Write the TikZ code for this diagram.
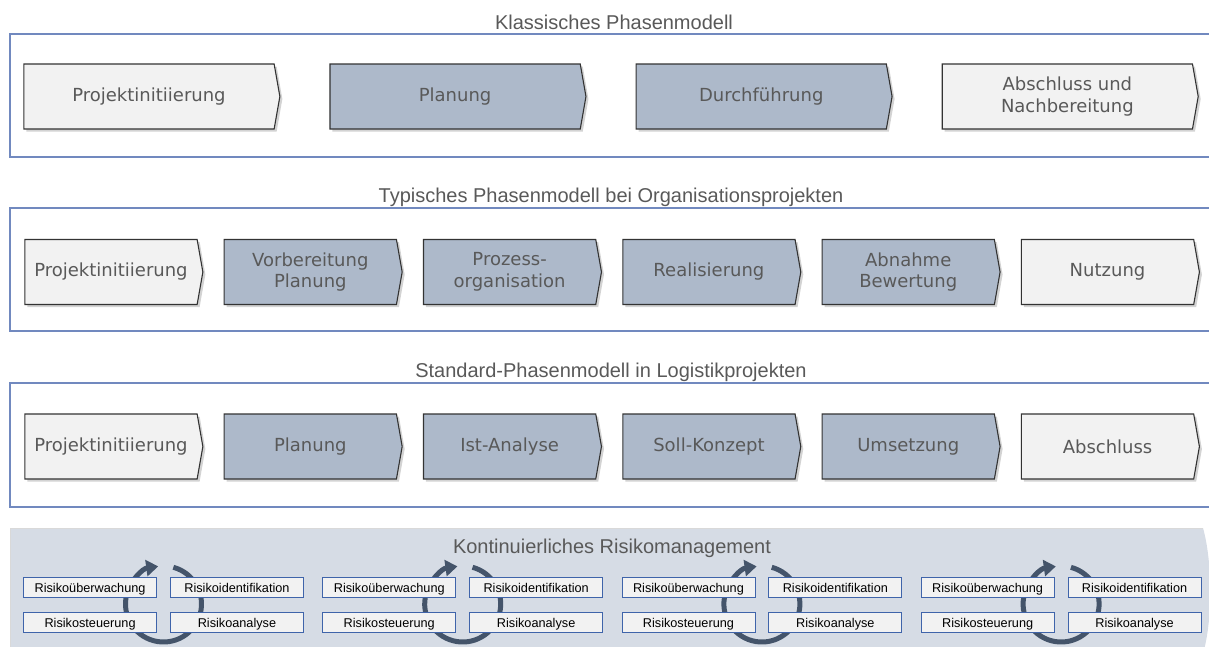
\documentclass[tikz,border=0pt]{standalone}
\usepackage{fontspec}
\setmainfont{Liberation Sans}
\newfontfamily\verdanafont{DejaVu Sans}
\usetikzlibrary{positioning,shapes.symbols,shadows,arrows.meta}

\definecolor{phaselight}{HTML}{F2F2F2}
\definecolor{phaseblue}{HTML}{ADB9CA}
\definecolor{framecol}{HTML}{7189BF}
\definecolor{bandcol}{HTML}{D6DCE5}
\definecolor{ringcol}{HTML}{44546A}
\definecolor{boxcol}{HTML}{3F64AA}
\definecolor{textgray}{HTML}{595959}

\tikzset{
	phase/.style={shape=signal, signal to=east, signal pointer angle=160,
		draw=black!80, line width=1.1pt, minimum height=65pt, inner sep=0pt,
		text=textgray, align=center, font=\verdanafont\fontsize{18}{21.5}\selectfont,
		drop shadow={shadow xshift=2.5pt, shadow yshift=-2.5pt, opacity=0.35}},
	wide/.style={minimum width=256pt},
	narrow/.style={minimum width=178pt},
	frame/.style={draw=framecol, line width=1.3pt},
	title/.style={text=textgray, font=\fontsize{20}{24}\selectfont},
	riskbox/.style={draw=boxcol, fill=phaselight, line width=0.9pt,
		minimum width=133pt, minimum height=20pt, inner sep=0pt,
		text height=12.5pt, text depth=2pt,
		font=\fontsize{12.7}{14}\selectfont},
	ring/.style={draw=ringcol, line width=5pt, -{Triangle[width=16pt,length=12pt]}}
}

\begin{document}
\begin{tikzpicture}[x=1pt, y=-1pt]
	\useasboundingbox (0,0) rectangle (1209,646);
	
	% frames and titles
	\draw[frame] (10,34) rectangle (1230,157);
	\draw[frame] (10,208) rectangle (1230,331);
	\draw[frame] (10,383) rectangle (1230,507);
	
	\node[title] (t1) at (614,22) {Klassisches Phasenmodell};
	\node[title] (t2) at (611,197) {Typisches Phasenmodell bei Organisationsprojekten};
	\node[title] (t3) at (611,372) {Standard-Phasenmodell in Logistikprojekten};
	
	% classic model
	\node[phase, wide, fill=phaselight] (k1) at (149,96.5) {Projektinitiierung};
	\node[phase, wide, fill=phaseblue, right=49pt of k1] (k2) {Planung};
	\node[phase, wide, fill=phaseblue, right=49pt of k2] (k3) {Durchführung};
	\node[phase, wide, fill=phaselight, right=49pt of k3] (k4) {Abschluss und\\Nachbereitung};
	
	% organisation projects
	\node[phase, narrow, fill=phaselight] (o1) at (111,272) {Projektinitiierung};
	\node[phase, narrow, fill=phaseblue, right=20.2pt of o1] (o2) {Vorbereitung\\Planung};
	\node[phase, narrow, fill=phaseblue, right=20.2pt of o2] (o3) {Prozess-\\organisation};
	\node[phase, narrow, fill=phaseblue, right=20.2pt of o3] (o4) {Realisierung};
	\node[phase, narrow, fill=phaseblue, right=20.2pt of o4] (o5) {Abnahme\\Bewertung};
	\node[phase, narrow, fill=phaselight, right=20.2pt of o5] (o6) {Nutzung};
	
	% logistics projects
	\node[phase, narrow, fill=phaselight] (l1) at (111,446.5) {Projektinitiierung};
	\node[phase, narrow, fill=phaseblue, right=20.2pt of l1] (l2) {Planung};
	\node[phase, narrow, fill=phaseblue, right=20.2pt of l2] (l3) {Ist-Analyse};
	\node[phase, narrow, fill=phaseblue, right=20.2pt of l3] (l4) {Soll-Konzept};
	\node[phase, narrow, fill=phaseblue, right=20.2pt of l4] (l5) {Umsetzung};
	\node[phase, narrow, fill=phaselight, right=20.2pt of l5] (l6) {Abschluss};
	
	% risk management band
	\fill[bandcol] (10,528) -- (1203,528) .. controls (1212,560) and (1213,615) .. (1204,650) -- (10,650) -- cycle;
	\draw[black!15, line width=0.8pt] (10,650) -- (10,528) -- (1203,528);
	\node[title] (t4) at (612,548) {Kontinuierliches Risikomanagement};
	
	\foreach \i in {0,...,3} {
		\coordinate (c\i) at (163.5+299.2*\i,605);
		\draw[ring] (c\i) ++(0,-1) ++(75:38pt) arc[start angle=75, end angle=-262, radius=38pt];
		\node[riskbox, above left=7pt and 6.5pt of c\i] (u\i) {Risikoüberwachung};
		\node[riskbox, above right=7pt and 6.5pt of c\i] (d\i) {Risikoidentifikation};
		\node[riskbox, below left=7pt and 6.5pt of c\i] (s\i) {Risikosteuerung};
		\node[riskbox, below right=7pt and 6.5pt of c\i] (a\i) {Risikoanalyse};
	}
\end{tikzpicture}
\end{document}
